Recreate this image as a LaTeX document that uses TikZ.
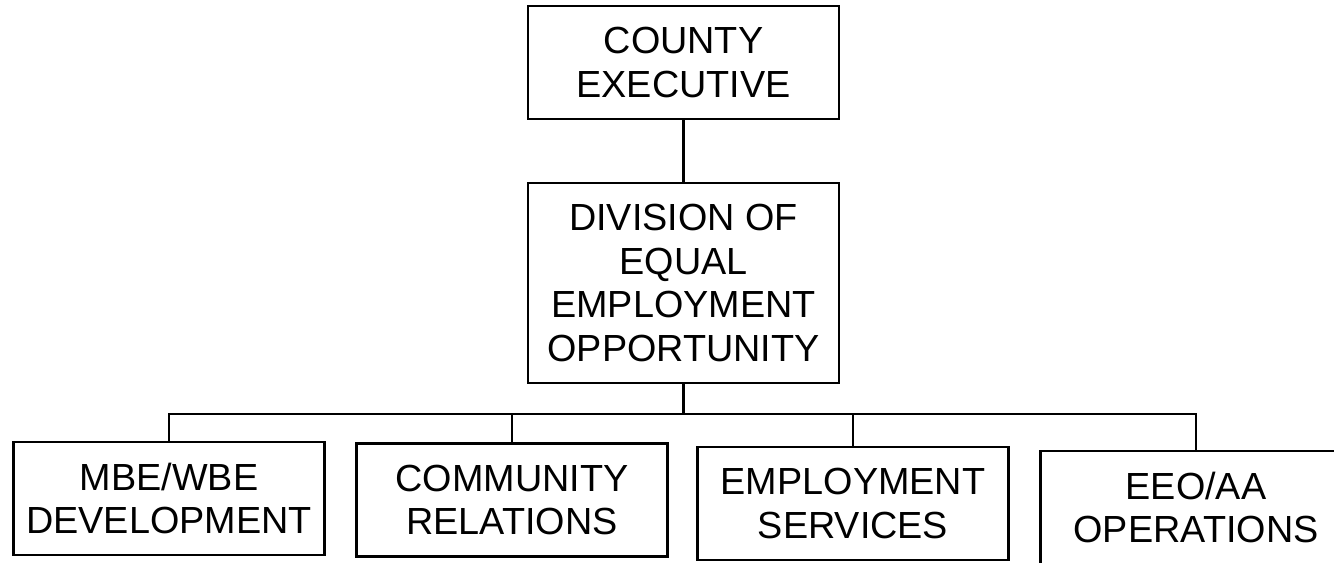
\documentclass[tikz,border=0pt]{standalone}
\usepackage{fontspec}
\setmainfont{Liberation Sans}
\usepackage{tikz}

\tikzset{
	unitbox/.style={draw, line width=1.5pt, align=center, inner sep=2pt,
		minimum width=6.22cm, minimum height=2.26cm,
		font=\fontsize{21.5}{25}\selectfont},
	wire/.style={line width=1.5pt}
}

\begin{document}
\begin{tikzpicture}[x=0.02cm,y=-0.02cm]
\clip (0,0) rectangle (1334,562);
	% top levels
	\node[unitbox] (ce) at (683.5,62.5) {COUNTY\\EXECUTIVE};
	\node[unitbox, minimum height=4cm] (deeo) at (683.5,283) {DIVISION OF\\EQUAL\\EMPLOYMENT\\OPPORTUNITY};
	\coordinate (bus) at (683.5,414);
	% offices
	\node[unitbox] (mbe) at (169,498.5) {MBE/WBE\\DEVELOPMENT};
	\node[unitbox] (cr) at (512,500) {COMMUNITY\\RELATIONS};
	\node[unitbox] (es) at (853,503.5) {EMPLOYMENT\\SERVICES};
	\node[unitbox] (eeo) at (1196,507.5) {EEO/AA\\OPERATIONS};
	% lines
	\draw[wire] (ce.south) -- (deeo.north);
	\draw[wire] (deeo.south) -- (bus);
	\draw[wire] (mbe.north) |- (bus);
	\draw[wire] (cr.north) |- (bus);
	\draw[wire] (es.north) |- (bus);
	\draw[wire] (eeo.north) |- (bus);
\end{tikzpicture}
\end{document}
